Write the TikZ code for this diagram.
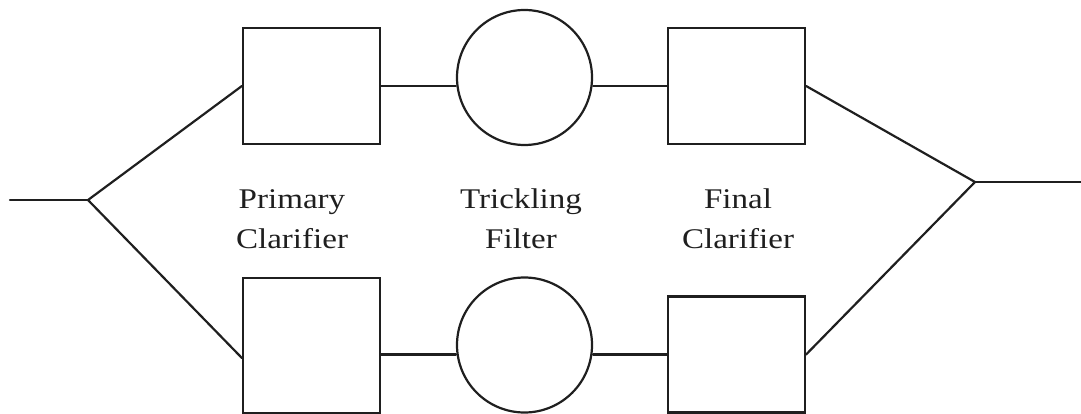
\documentclass[tikz,border=0pt]{standalone}
\usepackage{fontspec}
\setmainfont{Liberation Serif}
\newcommand{\wide}[1]{\scalebox{1.16}[1]{#1}}
\begin{document}
\begin{tikzpicture}[x=1pt,y=-1pt, line width=2.2pt, draw=black!88,
  box/.style={draw, rectangle, minimum width=137pt, minimum height=116pt, inner sep=0pt},
  tank/.style={draw, circle, minimum size=135pt, inner sep=0pt},
  pipe/.style={draw, line cap=round},
  lbl/.style={align=center, font=\fontsize{28.5}{40}\selectfont, inner sep=0pt, text=black!88}]
\useasboundingbox (0,0) rectangle (1081,414);
\node[box] (tl) at (311.5,86) {};
\node[box, minimum height=135pt] (bl) at (311.5,345.5) {};
\node[tank] (tc) at (524.5,77.5) {};
\node[tank] (bc) at (524.5,345) {};
\node[box] (tr) at (736.5,86) {};
\node[box] (br) at (736.5,354.5) {};
\coordinate (in) at (10,200);
\coordinate (sp) at (88,200);
\coordinate (jn) at (975,182);
\coordinate (out) at (1081,182);
\node[lbl, anchor=base] (l1) at (292,248) {\wide{Primary}\\\wide{Clarifier}};
\node[lbl, anchor=base] (l2) at (521,248) {\wide{Trickling}\\\wide{Filter}};
\node[lbl, anchor=base] (l3) at (738,248) {\wide{Final}\\\wide{Clarifier}};
\path[pipe] (in) -- (sp);
\path[pipe] (sp) -- (tl.west);
\path[pipe] (sp) -- ([yshift=-12.5pt]bl.west);
\path[pipe] (tl.east) -- (tl.east -| tc.west);
\path[pipe] (tl.east -| tc.east) -- (tr.west);
\path[pipe] (bl.east |- br.west) -- (bc.west |- br.west);
\path[pipe] (bc.east |- br.west) -- (br.west);
\path[pipe] (tr.east) -- (jn);
\path[pipe] (br.east) -- (jn);
\path[pipe] (jn) -- (out);
\end{tikzpicture}
\end{document}
